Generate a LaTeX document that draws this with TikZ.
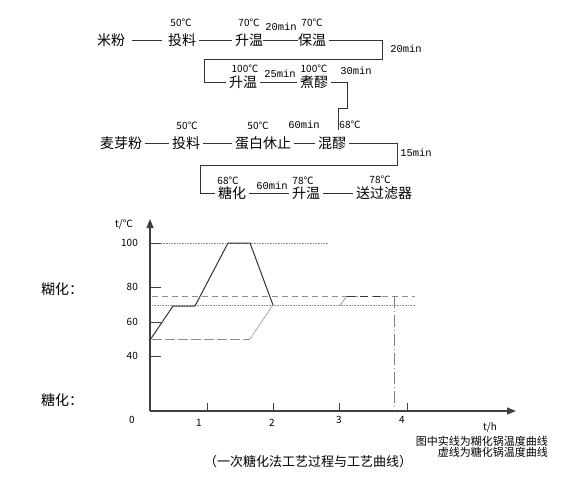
\documentclass[tikz,border=0pt]{standalone}
\usepackage{fontspec}
\setmainfont{Noto Sans CJK SC}
\newfontfamily\monofont{Liberation Mono}
\usetikzlibrary{arrows.meta}

\begin{document}
\begin{tikzpicture}[x=1pt,y=-1pt,
  stage/.style={font=\fontsize{14}{14}\selectfont, inner xsep=3pt, inner ysep=1pt},
  temp/.style={font=\fontsize{10}{10}\selectfont, inner sep=0pt},
  dur/.style={font=\monofont\fontsize{10.5}{10.5}\selectfont, inner sep=0pt},
  flow/.style={draw=black!80, line width=0.8pt},
  axisline/.style={draw=black!75, line width=1.2pt, -{Triangle[length=9pt,width=7pt]}},
  tick/.style={draw=black!75, line width=1pt},
  num/.style={font=\fontsize{10}{10}\selectfont, inner sep=0pt},
  dots/.style={draw=black!45, line width=0.8pt, dash pattern=on 1pt off 0.6pt},
  dashes/.style={draw=black!45, line width=0.8pt, dash pattern=on 6pt off 4pt}]
  \useasboundingbox (0,0) rectangle (561,491);

  % Process, row 1
  \node[stage] (mf)  at (111,40) {米粉};
  \node[stage] (tl1) at (182,40) {投料};
  \node[stage] (sw1) at (249,40) {升温};
  \node[stage] (bw)  at (312,40) {保温};
  \node[temp] (c1) at (181,23) {50℃};
  \node[temp] (c2) at (249,23) {70℃};
  \node[temp] (c3) at (312,23) {70℃};
  \node[dur] (m1) at (281,27) {20min};
  \draw[flow, shorten <=4pt, shorten >=3pt] (mf) -- (tl1);
  \draw[flow] (tl1) -- (sw1);
  \draw[flow, shorten <=-3pt, shorten >=-3pt] (sw1) -- (bw);

  % Process, row 2
  \node[stage] (sw2) at (243,82) {升温};
  \node[stage] (zl)  at (314,82) {煮醪};
  \node[temp] (c4) at (245,69) {100℃};
  \node[temp] (c5) at (314,69) {100℃};
  \node[dur] (m2) at (280,74) {25min};
  \node[dur] (m3) at (356,71) {30min};
  \node[dur] (m4) at (406,49) {20min};
  \coordinate (k1) at (382,59);
  \coordinate (k2) at (204,59);
  \draw[flow] (bw) -| (k1) -- (k2) |- (sw2);
  \draw[flow] (sw2) -- (zl);

  % Process, row 3
  \node[stage] (myf) at (121,143) {麦芽粉};
  \node[stage] (tl2) at (186,143) {投料};
  \node[stage] (dbxz) at (263,143) {蛋白休止};
  \node[stage] (hl)  at (332,143) {混醪};
  \node[temp] (c6) at (187,126) {50℃};
  \node[temp] (c7) at (258,126) {50℃};
  \node[temp] (c8) at (350,125) {68℃};
  \node[dur] (m5) at (304,125) {60min};
  \node[dur] (m6) at (416,153) {15min};
  \coordinate (k3) at (347,108);
  \coordinate (k4) at (338,108);
  \coordinate (k5) at (338,130);
  \draw[flow] (zl) -| (k3) -- (k4) -- (k5);
  \draw[flow] (myf) -- (tl2);
  \draw[flow] (tl2) -- (dbxz);
  \draw[flow] (dbxz) -- (hl);

  % Process, row 4
  \node[stage] (th)  at (232,193) {糖化};
  \node[stage] (sw3) at (306,193) {升温};
  \node[stage] (sgl) at (384,193) {送过滤器};
  \node[temp] (c9)  at (228,181) {68℃};
  \node[temp] (c10) at (303,181) {78℃};
  \node[temp] (c11) at (380,180) {78℃};
  \node[dur] (m7) at (272,186) {60min};
  \coordinate (k6) at (397,165);
  \coordinate (k7) at (200,165);
  \draw[flow] (hl) -| (k6) -- (k7) |- (th);
  \draw[flow] (th) -- (sw3);
  \draw[flow] (sw3) -- (sgl);

  % Axes
  \coordinate (o) at (150,411);
  \draw[axisline] (o) -- (150,219);
  \draw[axisline] (o) -- (516,411);
  \node[num] (ty) at (124,224) {t/℃};
  \node[num] (tx) at (490,427) {t/h};
  \node[num] (l0) at (132,420) {0};
  \foreach \v/\y in {100/243, 80/287, 60/322, 40/356} {
    \node[num, anchor=east] (y\v) at (138,\y) {\v};
    \draw[tick] (150,\y) -- (161,\y);
  }
  \foreach \h/\x/\lx/\ly in {1/207/199/423, 2/273/272/423, 3/339/339/420, 4/407/402/420} {
    \draw[tick] (\x,403) -- (\x,411);
    \node[num] (x\h) at (\lx,\ly) {\h};
  }
  \node[stage] (mash) at (62,289) {糊化：};
  \node[stage] (sacc) at (62,400) {糖化：};

  % Guide lines
  \draw[dots] (161,243) -- (328,243);
  \draw[dashes] (152,296) -- (415,296);
  \draw[dots] (152,305) -- (415,305);

  % Mash kettle (solid)
  \draw[draw=black!80, line width=1pt] (150,340) -- (173,306) -- (195,306)
    -- (228,243) -- (250,243) -- (273,305);

  % Saccharification kettle (dashed)
  \draw[dashes, dash pattern=on 10pt off 3pt] (152,339) -- (250,339);
  \draw[dots] (250,339) -- (273,305);
  \draw[dots] (340,305) -- (347,296);
  \draw[draw=black!80, line width=0.9pt, dash pattern=on 8pt off 5pt] (347,296) -- (382,296);
  \draw[draw=black!50, line width=0.8pt, dash pattern=on 12pt off 3pt on 1pt off 3pt] (394,296) -- (394,411);

  % Notes
  \node[font=\fontsize{11}{12}\selectfont, inner sep=0pt, anchor=east] (n1) at (548,441) {图中实线为糊化锅温度曲线};
  \node[font=\fontsize{11}{12}\selectfont, inner sep=0pt, anchor=east] (n2) at (548,452) {虚线为糖化锅温度曲线};
  \node[font=\fontsize{13}{13}\selectfont, inner sep=0pt] (cap) at (308,462) {（一次糖化法工艺过程与工艺曲线）};
\end{tikzpicture}
\end{document}
